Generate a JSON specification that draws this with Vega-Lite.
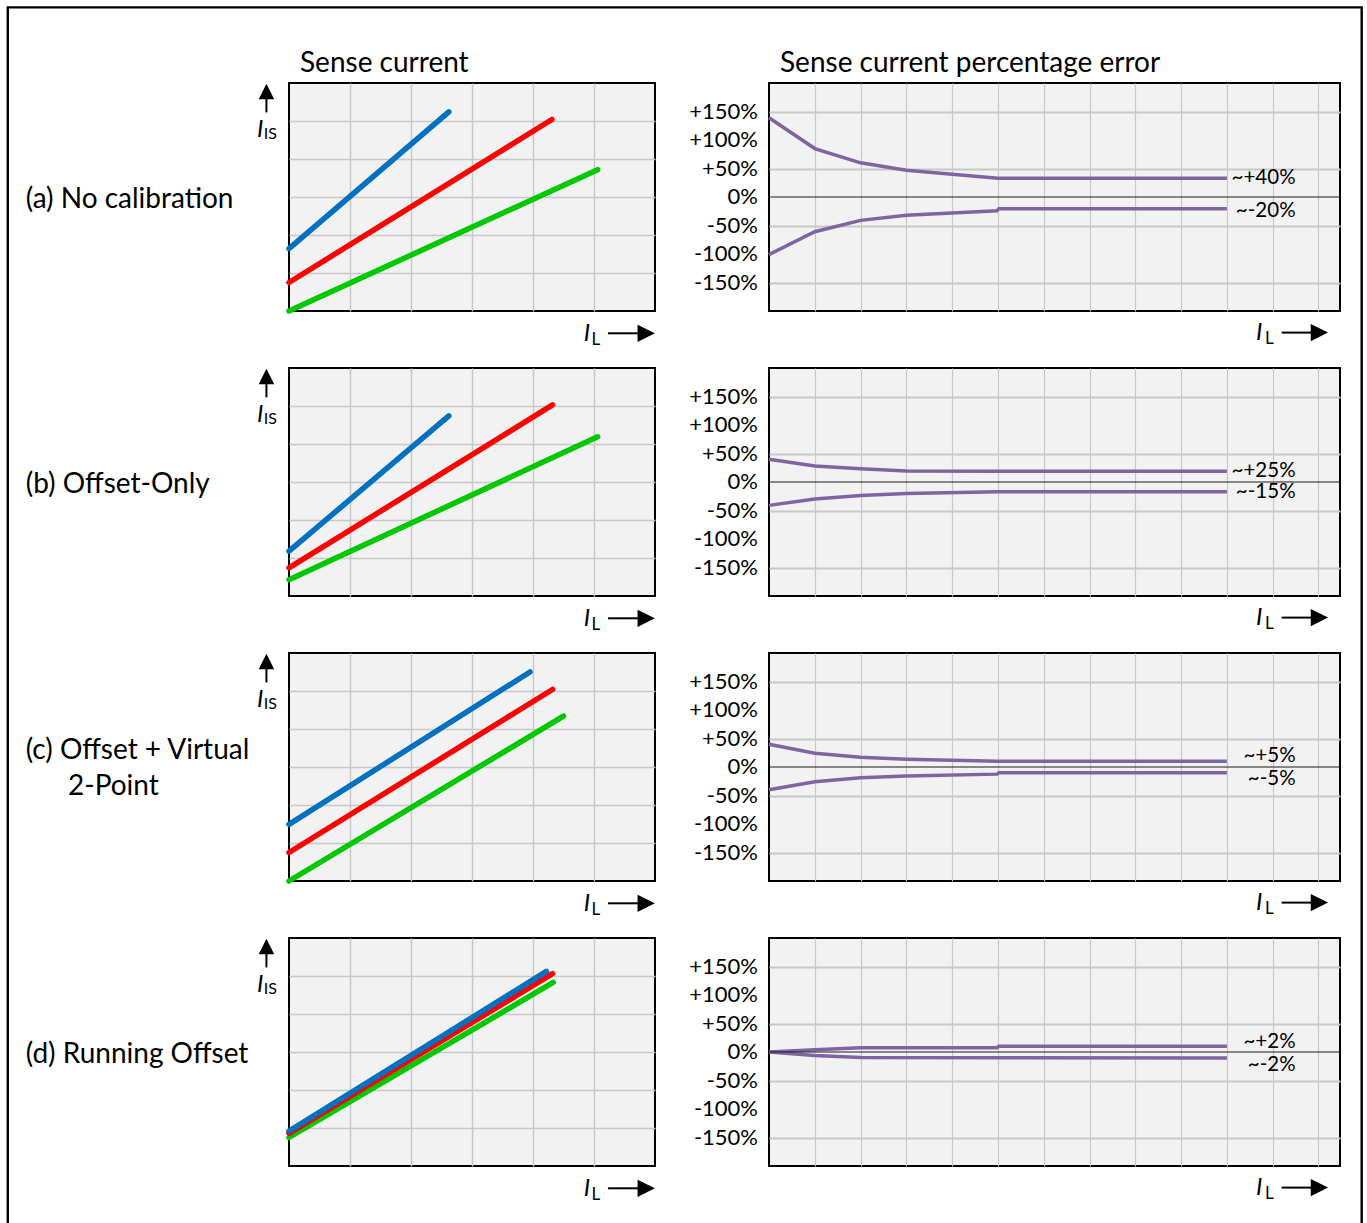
{
  "$schema": "https://vega.github.io/schema/vega-lite/v6.json",
  "background": "white",
  "padding": {"left": 5, "top": 5, "right": 0, "bottom": 0},
  "datasets": {
    "one": [{}],
    "ylabels": [
      {"v": 150, "label": "+150%"}, {"v": 100, "label": "+100%"}, {"v": 50, "label": "+50%"}, {"v": 0, "label": "0%"},
      {"v": -50, "label": "-50%"}, {"v": -100, "label": "-100%"}, {"v": -150, "label": "-150%"}
    ],
    "sense": [
      {"panel": "a", "s": "s1", "x": 0, "y": 0}, {"panel": "a", "s": "s1", "x": 5.06, "y": 3.72},
      {"panel": "a", "s": "s2", "x": 0, "y": 0.75}, {"panel": "a", "s": "s2", "x": 4.31, "y": 5.04},
      {"panel": "a", "s": "s3", "x": 0, "y": 1.64}, {"panel": "a", "s": "s3", "x": 2.62, "y": 5.24},
      {"panel": "b", "s": "s1", "x": 0, "y": 0.43}, {"panel": "b", "s": "s1", "x": 5.06, "y": 4.19},
      {"panel": "b", "s": "s2", "x": 0, "y": 0.74}, {"panel": "b", "s": "s2", "x": 4.32, "y": 5.03},
      {"panel": "b", "s": "s3", "x": 0, "y": 1.18}, {"panel": "b", "s": "s3", "x": 2.62, "y": 4.74},
      {"panel": "c", "s": "s1", "x": 0, "y": 0}, {"panel": "c", "s": "s1", "x": 4.5, "y": 4.34},
      {"panel": "c", "s": "s2", "x": 0, "y": 0.75}, {"panel": "c", "s": "s2", "x": 4.32, "y": 5.04},
      {"panel": "c", "s": "s3", "x": 0, "y": 1.49}, {"panel": "c", "s": "s3", "x": 3.95, "y": 5.5},
      {"panel": "d", "s": "s1", "x": 0, "y": 0.75}, {"panel": "d", "s": "s1", "x": 4.33, "y": 4.83},
      {"panel": "d", "s": "s2", "x": 0, "y": 0.86}, {"panel": "d", "s": "s2", "x": 4.32, "y": 5.06},
      {"panel": "d", "s": "s3", "x": 0, "y": 0.92}, {"panel": "d", "s": "s3", "x": 4.22, "y": 5.12}
    ],
    "err": [
      {"panel": "a", "b": "upper", "x": 0, "y": 139}, {"panel": "a", "b": "upper", "x": 1, "y": 85}, {"panel": "a", "b": "upper", "x": 2, "y": 60}, {"panel": "a", "b": "upper", "x": 3, "y": 47}, {"panel": "a", "b": "upper", "x": 5, "y": 33}, {"panel": "a", "b": "upper", "x": 10, "y": 33},
      {"panel": "a", "b": "lower", "x": 0, "y": -101}, {"panel": "a", "b": "lower", "x": 1, "y": -61}, {"panel": "a", "b": "lower", "x": 2, "y": -41}, {"panel": "a", "b": "lower", "x": 3, "y": -32}, {"panel": "a", "b": "lower", "x": 4.98, "y": -24}, {"panel": "a", "b": "lower", "x": 5.02, "y": -20.5}, {"panel": "a", "b": "lower", "x": 10, "y": -20.5},
      {"panel": "b", "b": "upper", "x": 0, "y": 40}, {"panel": "b", "b": "upper", "x": 1, "y": 28}, {"panel": "b", "b": "upper", "x": 2, "y": 23.4}, {"panel": "b", "b": "upper", "x": 3, "y": 19.5}, {"panel": "b", "b": "upper", "x": 5, "y": 19}, {"panel": "b", "b": "upper", "x": 10, "y": 19},
      {"panel": "b", "b": "lower", "x": 0, "y": -41}, {"panel": "b", "b": "lower", "x": 1, "y": -30}, {"panel": "b", "b": "lower", "x": 2, "y": -23.5}, {"panel": "b", "b": "lower", "x": 3, "y": -20}, {"panel": "b", "b": "lower", "x": 5, "y": -17}, {"panel": "b", "b": "lower", "x": 10, "y": -17},
      {"panel": "c", "b": "upper", "x": 0, "y": 40}, {"panel": "c", "b": "upper", "x": 1, "y": 24}, {"panel": "c", "b": "upper", "x": 2, "y": 17}, {"panel": "c", "b": "upper", "x": 3, "y": 13.5}, {"panel": "c", "b": "upper", "x": 5, "y": 10}, {"panel": "c", "b": "upper", "x": 10, "y": 10},
      {"panel": "c", "b": "lower", "x": 0, "y": -40}, {"panel": "c", "b": "lower", "x": 1, "y": -26}, {"panel": "c", "b": "lower", "x": 2, "y": -19}, {"panel": "c", "b": "lower", "x": 3, "y": -16}, {"panel": "c", "b": "lower", "x": 4.98, "y": -12.5}, {"panel": "c", "b": "lower", "x": 5.02, "y": -10}, {"panel": "c", "b": "lower", "x": 10, "y": -10},
      {"panel": "d", "b": "upper", "x": 0, "y": 0}, {"panel": "d", "b": "upper", "x": 1, "y": 4}, {"panel": "d", "b": "upper", "x": 2, "y": 7.5}, {"panel": "d", "b": "upper", "x": 4.98, "y": 7.5}, {"panel": "d", "b": "upper", "x": 5.02, "y": 10}, {"panel": "d", "b": "upper", "x": 10, "y": 10},
      {"panel": "d", "b": "lower", "x": 0, "y": 0}, {"panel": "d", "b": "lower", "x": 1, "y": -6}, {"panel": "d", "b": "lower", "x": 2, "y": -9.5}, {"panel": "d", "b": "lower", "x": 5, "y": -10}, {"panel": "d", "b": "lower", "x": 10, "y": -10.5}
    ],
    "notes": [
      {"panel": "a", "text": "~+40%", "x": 11.5, "y": 33}, {"panel": "a", "text": "~-20%", "x": 11.5, "y": -24},
      {"panel": "b", "text": "~+25%", "x": 11.5, "y": 20}, {"panel": "b", "text": "~-15%", "x": 11.5, "y": -18},
      {"panel": "c", "text": "~+5%", "x": 11.5, "y": 19}, {"panel": "c", "text": "~-5%", "x": 11.5, "y": -21},
      {"panel": "d", "text": "~+2%", "x": 11.5, "y": 17}, {"panel": "d", "text": "~-2%", "x": 11.5, "y": -23}
    ]
  },
  "bounds": "flush",
  "align": "each",
  "columns": 2,
  "spacing": {"row": 57, "column": 114},
  "concat": [
    {
      "width": 366, "height": 228,
      "title": {"text": "Sense current", "anchor": "start", "frame": "group", "dx": 11, "offset": 5},
      "layer": [
        {"data": {"name": "sense"}, "transform": [{"filter": "datum.panel == 'a'"}],
         "mark": {"type": "line", "strokeWidth": 5.5, "strokeCap": "round"},
         "encoding": {
           "x": {"field": "x", "type": "quantitative", "scale": {"domain": [0, 6], "nice": false, "zero": false}, "axis": {"values": [1, 2, 3, 4, 5], "labels": false, "title": null}},
           "y": {"field": "y", "type": "quantitative", "scale": {"domain": [0, 6], "nice": false, "zero": false}, "axis": {"values": [1, 2, 3, 4, 5], "labels": false, "title": null}},
           "color": {"field": "s", "type": "nominal", "scale": {"domain": ["s1", "s2", "s3"], "range": ["#00c800", "#ff0000", "#0070c0"]}, "legend": null}
         }},
        {"data": {"name": "one"}, "mark": {"type": "rule", "color": "black", "strokeWidth": 2}, "encoding": {"x": {"datum": -0.37}, "y": {"datum": 5.58}, "y2": {"datum": 5.226}}},
        {"data": {"name": "one"}, "mark": {"type": "point", "shape": "M0,-1L1,1L-1,1Z", "filled": true, "color": "black", "opacity": 1, "size": 240}, "encoding": {"x": {"datum": -0.37}, "y": {"datum": 5.776}}},
        {"data": {"name": "one"}, "mark": {"type": "text", "text": "I", "fontStyle": "italic", "fontSize": 24, "align": "left", "baseline": "alphabetic", "color": "black"}, "encoding": {"x": {"datum": -0.525}, "y": {"datum": 4.579}}},
        {"data": {"name": "one"}, "mark": {"type": "text", "text": "IS", "fontSize": 16, "align": "left", "baseline": "alphabetic", "color": "black"}, "encoding": {"x": {"datum": -0.415}, "y": {"datum": 4.537}}},
        {"data": {"name": "one"}, "mark": {"type": "rule", "color": "black", "strokeWidth": 2}, "encoding": {"x": {"datum": 5.23}, "x2": {"datum": 5.72}, "y": {"datum": -0.587}}},
        {"data": {"name": "one"}, "mark": {"type": "point", "shape": "M-1,-1L1,0L-1,1Z", "filled": true, "color": "black", "opacity": 1, "size": 300}, "encoding": {"x": {"datum": 5.856}, "y": {"datum": -0.587}}},
        {"data": {"name": "one"}, "mark": {"type": "text", "text": "I", "fontStyle": "italic", "fontSize": 24, "align": "left", "baseline": "alphabetic", "color": "black"}, "encoding": {"x": {"datum": 4.831}, "y": {"datum": -0.789}}},
        {"data": {"name": "one"}, "mark": {"type": "text", "text": "L", "fontSize": 17, "align": "left", "baseline": "alphabetic", "color": "black"}, "encoding": {"x": {"datum": 4.957}, "y": {"datum": -0.895}}},
        {"data": {"name": "one"}, "mark": {"type": "text", "text": "(a) No calibration", "fontSize": 28, "align": "left", "baseline": "alphabetic", "color": "black"}, "encoding": {"x": {"datum": -4.316}, "y": {"datum": 2.718}}}
      ]
    },
    {
      "width": 571, "height": 228,
      "title": {"text": "Sense current percentage error", "anchor": "start", "frame": "group", "dx": 11, "offset": 5},
      "layer": [
        {"data": {"name": "err"}, "transform": [{"filter": "datum.panel == 'a'"}],
         "mark": {"type": "line", "color": "#8064a2", "strokeWidth": 3.5},
         "encoding": {
           "x": {"field": "x", "type": "quantitative", "scale": {"domain": [0, 12.47], "nice": false, "zero": false}, "axis": {"values": [1, 2, 3, 4, 5, 6, 7, 8, 9, 10, 11, 12], "labels": false, "gridWidth": 1.2, "title": null}},
           "y": {"field": "y", "type": "quantitative", "scale": {"domain": [-200, 200], "nice": false}, "axis": {"values": [-150, -100, -50, 0, 50, 100, 150], "labels": false, "gridWidth": 2, "title": null}},
           "detail": {"field": "b"}
         }},
        {"data": {"name": "one"}, "mark": {"type": "rule", "color": "#1a1a1a", "strokeWidth": 1}, "encoding": {"y": {"datum": 0}}},
        {"data": {"name": "ylabels"}, "mark": {"type": "text", "fontSize": 22, "align": "right", "baseline": "middle", "dx": -11, "color": "black"}, "encoding": {"x": {"datum": 0}, "y": {"field": "v", "type": "quantitative"}, "text": {"field": "label"}}},
        {"data": {"name": "notes"}, "transform": [{"filter": "datum.panel == 'a'"}],
         "mark": {"type": "text", "fontSize": 20.5, "align": "right", "baseline": "middle", "color": "black"},
         "encoding": {"x": {"field": "x", "type": "quantitative"}, "y": {"field": "y", "type": "quantitative"}, "text": {"field": "text"}}},
        {"data": {"name": "one"}, "mark": {"type": "rule", "color": "black", "strokeWidth": 2}, "encoding": {"x": {"datum": 11.195}, "x2": {"datum": 11.85}, "y": {"datum": -237.9}}},
        {"data": {"name": "one"}, "mark": {"type": "point", "shape": "M-1,-1L1,0L-1,1Z", "filled": true, "color": "black", "opacity": 1, "size": 300}, "encoding": {"x": {"datum": 12.02}, "y": {"datum": -237.9}}},
        {"data": {"name": "one"}, "mark": {"type": "text", "text": "I", "fontStyle": "italic", "fontSize": 24, "align": "left", "baseline": "alphabetic", "color": "black"}, "encoding": {"x": {"datum": 10.635}, "y": {"datum": -251.4}}},
        {"data": {"name": "one"}, "mark": {"type": "text", "text": "L", "fontSize": 17, "align": "left", "baseline": "alphabetic", "color": "black"}, "encoding": {"x": {"datum": 10.83}, "y": {"datum": -258.4}}}
      ]
    },
    {
      "width": 366, "height": 228,
      "layer": [
        {"data": {"name": "sense"}, "transform": [{"filter": "datum.panel == 'b'"}],
         "mark": {"type": "line", "strokeWidth": 5.5, "strokeCap": "round"},
         "encoding": {
           "x": {"field": "x", "type": "quantitative", "scale": {"domain": [0, 6], "nice": false, "zero": false}, "axis": {"values": [1, 2, 3, 4, 5], "labels": false, "title": null}},
           "y": {"field": "y", "type": "quantitative", "scale": {"domain": [0, 6], "nice": false, "zero": false}, "axis": {"values": [1, 2, 3, 4, 5], "labels": false, "title": null}},
           "color": {"field": "s", "type": "nominal", "scale": {"domain": ["s1", "s2", "s3"], "range": ["#00c800", "#ff0000", "#0070c0"]}, "legend": null}
         }},
        {"data": {"name": "one"}, "mark": {"type": "rule", "color": "black", "strokeWidth": 2}, "encoding": {"x": {"datum": -0.37}, "y": {"datum": 5.58}, "y2": {"datum": 5.226}}},
        {"data": {"name": "one"}, "mark": {"type": "point", "shape": "M0,-1L1,1L-1,1Z", "filled": true, "color": "black", "opacity": 1, "size": 240}, "encoding": {"x": {"datum": -0.37}, "y": {"datum": 5.776}}},
        {"data": {"name": "one"}, "mark": {"type": "text", "text": "I", "fontStyle": "italic", "fontSize": 24, "align": "left", "baseline": "alphabetic", "color": "black"}, "encoding": {"x": {"datum": -0.525}, "y": {"datum": 4.579}}},
        {"data": {"name": "one"}, "mark": {"type": "text", "text": "IS", "fontSize": 16, "align": "left", "baseline": "alphabetic", "color": "black"}, "encoding": {"x": {"datum": -0.415}, "y": {"datum": 4.537}}},
        {"data": {"name": "one"}, "mark": {"type": "rule", "color": "black", "strokeWidth": 2}, "encoding": {"x": {"datum": 5.23}, "x2": {"datum": 5.72}, "y": {"datum": -0.587}}},
        {"data": {"name": "one"}, "mark": {"type": "point", "shape": "M-1,-1L1,0L-1,1Z", "filled": true, "color": "black", "opacity": 1, "size": 300}, "encoding": {"x": {"datum": 5.856}, "y": {"datum": -0.587}}},
        {"data": {"name": "one"}, "mark": {"type": "text", "text": "I", "fontStyle": "italic", "fontSize": 24, "align": "left", "baseline": "alphabetic", "color": "black"}, "encoding": {"x": {"datum": 4.831}, "y": {"datum": -0.789}}},
        {"data": {"name": "one"}, "mark": {"type": "text", "text": "L", "fontSize": 17, "align": "left", "baseline": "alphabetic", "color": "black"}, "encoding": {"x": {"datum": 4.957}, "y": {"datum": -0.895}}},
        {"data": {"name": "one"}, "mark": {"type": "text", "text": "(b) Offset-Only", "fontSize": 28, "align": "left", "baseline": "alphabetic", "color": "black"}, "encoding": {"x": {"datum": -4.316}, "y": {"datum": 2.718}}}
      ]
    },
    {
      "width": 571, "height": 228,
      "layer": [
        {"data": {"name": "err"}, "transform": [{"filter": "datum.panel == 'b'"}],
         "mark": {"type": "line", "color": "#8064a2", "strokeWidth": 3.5},
         "encoding": {
           "x": {"field": "x", "type": "quantitative", "scale": {"domain": [0, 12.47], "nice": false, "zero": false}, "axis": {"values": [1, 2, 3, 4, 5, 6, 7, 8, 9, 10, 11, 12], "labels": false, "gridWidth": 1.2, "title": null}},
           "y": {"field": "y", "type": "quantitative", "scale": {"domain": [-200, 200], "nice": false}, "axis": {"values": [-150, -100, -50, 0, 50, 100, 150], "labels": false, "gridWidth": 2, "title": null}},
           "detail": {"field": "b"}
         }},
        {"data": {"name": "one"}, "mark": {"type": "rule", "color": "#1a1a1a", "strokeWidth": 1}, "encoding": {"y": {"datum": 0}}},
        {"data": {"name": "ylabels"}, "mark": {"type": "text", "fontSize": 22, "align": "right", "baseline": "middle", "dx": -11, "color": "black"}, "encoding": {"x": {"datum": 0}, "y": {"field": "v", "type": "quantitative"}, "text": {"field": "label"}}},
        {"data": {"name": "notes"}, "transform": [{"filter": "datum.panel == 'b'"}],
         "mark": {"type": "text", "fontSize": 20.5, "align": "right", "baseline": "middle", "color": "black"},
         "encoding": {"x": {"field": "x", "type": "quantitative"}, "y": {"field": "y", "type": "quantitative"}, "text": {"field": "text"}}},
        {"data": {"name": "one"}, "mark": {"type": "rule", "color": "black", "strokeWidth": 2}, "encoding": {"x": {"datum": 11.195}, "x2": {"datum": 11.85}, "y": {"datum": -237.9}}},
        {"data": {"name": "one"}, "mark": {"type": "point", "shape": "M-1,-1L1,0L-1,1Z", "filled": true, "color": "black", "opacity": 1, "size": 300}, "encoding": {"x": {"datum": 12.02}, "y": {"datum": -237.9}}},
        {"data": {"name": "one"}, "mark": {"type": "text", "text": "I", "fontStyle": "italic", "fontSize": 24, "align": "left", "baseline": "alphabetic", "color": "black"}, "encoding": {"x": {"datum": 10.635}, "y": {"datum": -251.4}}},
        {"data": {"name": "one"}, "mark": {"type": "text", "text": "L", "fontSize": 17, "align": "left", "baseline": "alphabetic", "color": "black"}, "encoding": {"x": {"datum": 10.83}, "y": {"datum": -258.4}}}
      ]
    },
    {
      "width": 366, "height": 228,
      "layer": [
        {"data": {"name": "sense"}, "transform": [{"filter": "datum.panel == 'c'"}],
         "mark": {"type": "line", "strokeWidth": 5.5, "strokeCap": "round"},
         "encoding": {
           "x": {"field": "x", "type": "quantitative", "scale": {"domain": [0, 6], "nice": false, "zero": false}, "axis": {"values": [1, 2, 3, 4, 5], "labels": false, "title": null}},
           "y": {"field": "y", "type": "quantitative", "scale": {"domain": [0, 6], "nice": false, "zero": false}, "axis": {"values": [1, 2, 3, 4, 5], "labels": false, "title": null}},
           "color": {"field": "s", "type": "nominal", "scale": {"domain": ["s1", "s2", "s3"], "range": ["#00c800", "#ff0000", "#0070c0"]}, "legend": null}
         }},
        {"data": {"name": "one"}, "mark": {"type": "rule", "color": "black", "strokeWidth": 2}, "encoding": {"x": {"datum": -0.37}, "y": {"datum": 5.58}, "y2": {"datum": 5.226}}},
        {"data": {"name": "one"}, "mark": {"type": "point", "shape": "M0,-1L1,1L-1,1Z", "filled": true, "color": "black", "opacity": 1, "size": 240}, "encoding": {"x": {"datum": -0.37}, "y": {"datum": 5.776}}},
        {"data": {"name": "one"}, "mark": {"type": "text", "text": "I", "fontStyle": "italic", "fontSize": 24, "align": "left", "baseline": "alphabetic", "color": "black"}, "encoding": {"x": {"datum": -0.525}, "y": {"datum": 4.579}}},
        {"data": {"name": "one"}, "mark": {"type": "text", "text": "IS", "fontSize": 16, "align": "left", "baseline": "alphabetic", "color": "black"}, "encoding": {"x": {"datum": -0.415}, "y": {"datum": 4.537}}},
        {"data": {"name": "one"}, "mark": {"type": "rule", "color": "black", "strokeWidth": 2}, "encoding": {"x": {"datum": 5.23}, "x2": {"datum": 5.72}, "y": {"datum": -0.587}}},
        {"data": {"name": "one"}, "mark": {"type": "point", "shape": "M-1,-1L1,0L-1,1Z", "filled": true, "color": "black", "opacity": 1, "size": 300}, "encoding": {"x": {"datum": 5.856}, "y": {"datum": -0.587}}},
        {"data": {"name": "one"}, "mark": {"type": "text", "text": "I", "fontStyle": "italic", "fontSize": 24, "align": "left", "baseline": "alphabetic", "color": "black"}, "encoding": {"x": {"datum": 4.831}, "y": {"datum": -0.789}}},
        {"data": {"name": "one"}, "mark": {"type": "text", "text": "L", "fontSize": 17, "align": "left", "baseline": "alphabetic", "color": "black"}, "encoding": {"x": {"datum": 4.957}, "y": {"datum": -0.895}}},
        {"data": {"name": "one"}, "mark": {"type": "text", "text": "(c) Offset + Virtual", "fontSize": 28, "align": "left", "baseline": "alphabetic", "color": "black"}, "encoding": {"x": {"datum": -4.316}, "y": {"datum": 3.221}}},
        {"data": {"name": "one"}, "mark": {"type": "text", "text": "2-Point", "fontSize": 28, "align": "left", "baseline": "alphabetic", "color": "black"}, "encoding": {"x": {"datum": -3.623}, "y": {"datum": 2.255}}}
      ]
    },
    {
      "width": 571, "height": 228,
      "layer": [
        {"data": {"name": "err"}, "transform": [{"filter": "datum.panel == 'c'"}],
         "mark": {"type": "line", "color": "#8064a2", "strokeWidth": 3.5},
         "encoding": {
           "x": {"field": "x", "type": "quantitative", "scale": {"domain": [0, 12.47], "nice": false, "zero": false}, "axis": {"values": [1, 2, 3, 4, 5, 6, 7, 8, 9, 10, 11, 12], "labels": false, "gridWidth": 1.2, "title": null}},
           "y": {"field": "y", "type": "quantitative", "scale": {"domain": [-200, 200], "nice": false}, "axis": {"values": [-150, -100, -50, 0, 50, 100, 150], "labels": false, "gridWidth": 2, "title": null}},
           "detail": {"field": "b"}
         }},
        {"data": {"name": "one"}, "mark": {"type": "rule", "color": "#1a1a1a", "strokeWidth": 1}, "encoding": {"y": {"datum": 0}}},
        {"data": {"name": "ylabels"}, "mark": {"type": "text", "fontSize": 22, "align": "right", "baseline": "middle", "dx": -11, "color": "black"}, "encoding": {"x": {"datum": 0}, "y": {"field": "v", "type": "quantitative"}, "text": {"field": "label"}}},
        {"data": {"name": "notes"}, "transform": [{"filter": "datum.panel == 'c'"}],
         "mark": {"type": "text", "fontSize": 20.5, "align": "right", "baseline": "middle", "color": "black"},
         "encoding": {"x": {"field": "x", "type": "quantitative"}, "y": {"field": "y", "type": "quantitative"}, "text": {"field": "text"}}},
        {"data": {"name": "one"}, "mark": {"type": "rule", "color": "black", "strokeWidth": 2}, "encoding": {"x": {"datum": 11.195}, "x2": {"datum": 11.85}, "y": {"datum": -237.9}}},
        {"data": {"name": "one"}, "mark": {"type": "point", "shape": "M-1,-1L1,0L-1,1Z", "filled": true, "color": "black", "opacity": 1, "size": 300}, "encoding": {"x": {"datum": 12.02}, "y": {"datum": -237.9}}},
        {"data": {"name": "one"}, "mark": {"type": "text", "text": "I", "fontStyle": "italic", "fontSize": 24, "align": "left", "baseline": "alphabetic", "color": "black"}, "encoding": {"x": {"datum": 10.635}, "y": {"datum": -251.4}}},
        {"data": {"name": "one"}, "mark": {"type": "text", "text": "L", "fontSize": 17, "align": "left", "baseline": "alphabetic", "color": "black"}, "encoding": {"x": {"datum": 10.83}, "y": {"datum": -258.4}}}
      ]
    },
    {
      "width": 366, "height": 228,
      "layer": [
        {"data": {"name": "sense"}, "transform": [{"filter": "datum.panel == 'd'"}],
         "mark": {"type": "line", "strokeWidth": 5.5, "strokeCap": "round"},
         "encoding": {
           "x": {"field": "x", "type": "quantitative", "scale": {"domain": [0, 6], "nice": false, "zero": false}, "axis": {"values": [1, 2, 3, 4, 5], "labels": false, "title": null}},
           "y": {"field": "y", "type": "quantitative", "scale": {"domain": [0, 6], "nice": false, "zero": false}, "axis": {"values": [1, 2, 3, 4, 5], "labels": false, "title": null}},
           "color": {"field": "s", "type": "nominal", "scale": {"domain": ["s1", "s2", "s3"], "range": ["#00c800", "#ff0000", "#0070c0"]}, "legend": null}
         }},
        {"data": {"name": "one"}, "mark": {"type": "rule", "color": "black", "strokeWidth": 2}, "encoding": {"x": {"datum": -0.37}, "y": {"datum": 5.58}, "y2": {"datum": 5.226}}},
        {"data": {"name": "one"}, "mark": {"type": "point", "shape": "M0,-1L1,1L-1,1Z", "filled": true, "color": "black", "opacity": 1, "size": 240}, "encoding": {"x": {"datum": -0.37}, "y": {"datum": 5.776}}},
        {"data": {"name": "one"}, "mark": {"type": "text", "text": "I", "fontStyle": "italic", "fontSize": 24, "align": "left", "baseline": "alphabetic", "color": "black"}, "encoding": {"x": {"datum": -0.525}, "y": {"datum": 4.579}}},
        {"data": {"name": "one"}, "mark": {"type": "text", "text": "IS", "fontSize": 16, "align": "left", "baseline": "alphabetic", "color": "black"}, "encoding": {"x": {"datum": -0.415}, "y": {"datum": 4.537}}},
        {"data": {"name": "one"}, "mark": {"type": "rule", "color": "black", "strokeWidth": 2}, "encoding": {"x": {"datum": 5.23}, "x2": {"datum": 5.72}, "y": {"datum": -0.587}}},
        {"data": {"name": "one"}, "mark": {"type": "point", "shape": "M-1,-1L1,0L-1,1Z", "filled": true, "color": "black", "opacity": 1, "size": 300}, "encoding": {"x": {"datum": 5.856}, "y": {"datum": -0.587}}},
        {"data": {"name": "one"}, "mark": {"type": "text", "text": "I", "fontStyle": "italic", "fontSize": 24, "align": "left", "baseline": "alphabetic", "color": "black"}, "encoding": {"x": {"datum": 4.831}, "y": {"datum": -0.789}}},
        {"data": {"name": "one"}, "mark": {"type": "text", "text": "L", "fontSize": 17, "align": "left", "baseline": "alphabetic", "color": "black"}, "encoding": {"x": {"datum": 4.957}, "y": {"datum": -0.895}}},
        {"data": {"name": "one"}, "mark": {"type": "text", "text": "(d) Running Offset", "fontSize": 28, "align": "left", "baseline": "alphabetic", "color": "black"}, "encoding": {"x": {"datum": -4.316}, "y": {"datum": 2.718}}},
        {"data": {"name": "one"}, "mark": {"type": "rect", "filled": false, "stroke": "black", "strokeWidth": 2.4}, "encoding": {"x": {"datum": -4.61}, "x2": {"datum": 17.585}, "y": {"datum": 30.49}, "y2": {"datum": -2.2}}}
      ]
    },
    {
      "width": 571, "height": 228,
      "layer": [
        {"data": {"name": "err"}, "transform": [{"filter": "datum.panel == 'd'"}],
         "mark": {"type": "line", "color": "#8064a2", "strokeWidth": 3.5},
         "encoding": {
           "x": {"field": "x", "type": "quantitative", "scale": {"domain": [0, 12.47], "nice": false, "zero": false}, "axis": {"values": [1, 2, 3, 4, 5, 6, 7, 8, 9, 10, 11, 12], "labels": false, "gridWidth": 1.2, "title": null}},
           "y": {"field": "y", "type": "quantitative", "scale": {"domain": [-200, 200], "nice": false}, "axis": {"values": [-150, -100, -50, 0, 50, 100, 150], "labels": false, "gridWidth": 2, "title": null}},
           "detail": {"field": "b"}
         }},
        {"data": {"name": "one"}, "mark": {"type": "rule", "color": "#1a1a1a", "strokeWidth": 1}, "encoding": {"y": {"datum": 0}}},
        {"data": {"name": "ylabels"}, "mark": {"type": "text", "fontSize": 22, "align": "right", "baseline": "middle", "dx": -11, "color": "black"}, "encoding": {"x": {"datum": 0}, "y": {"field": "v", "type": "quantitative"}, "text": {"field": "label"}}},
        {"data": {"name": "notes"}, "transform": [{"filter": "datum.panel == 'd'"}],
         "mark": {"type": "text", "fontSize": 20.5, "align": "right", "baseline": "middle", "color": "black"},
         "encoding": {"x": {"field": "x", "type": "quantitative"}, "y": {"field": "y", "type": "quantitative"}, "text": {"field": "text"}}},
        {"data": {"name": "one"}, "mark": {"type": "rule", "color": "black", "strokeWidth": 2}, "encoding": {"x": {"datum": 11.195}, "x2": {"datum": 11.85}, "y": {"datum": -237.9}}},
        {"data": {"name": "one"}, "mark": {"type": "point", "shape": "M-1,-1L1,0L-1,1Z", "filled": true, "color": "black", "opacity": 1, "size": 300}, "encoding": {"x": {"datum": 12.02}, "y": {"datum": -237.9}}},
        {"data": {"name": "one"}, "mark": {"type": "text", "text": "I", "fontStyle": "italic", "fontSize": 24, "align": "left", "baseline": "alphabetic", "color": "black"}, "encoding": {"x": {"datum": 10.635}, "y": {"datum": -251.4}}},
        {"data": {"name": "one"}, "mark": {"type": "text", "text": "L", "fontSize": 17, "align": "left", "baseline": "alphabetic", "color": "black"}, "encoding": {"x": {"datum": 10.83}, "y": {"datum": -258.4}}}
      ]
    }
  ],
  "config": {
    "font": "Lato",
    "view": {"fill": "#f2f2f2", "stroke": "#000000", "strokeWidth": 2},
    "axis": {"domain": false, "ticks": false, "tickSize": 0, "grid": true, "gridColor": "#c8c8c8", "gridWidth": 1.5, "gridOpacity": 1, "labelFont": "Lato", "labelFontSize": 22, "labelColor": "#000000", "labelPadding": 11, "labelFlush": false},
    "title": {"font": "Lato", "fontSize": 28, "fontWeight": "normal", "color": "#000000"}
  }
}
